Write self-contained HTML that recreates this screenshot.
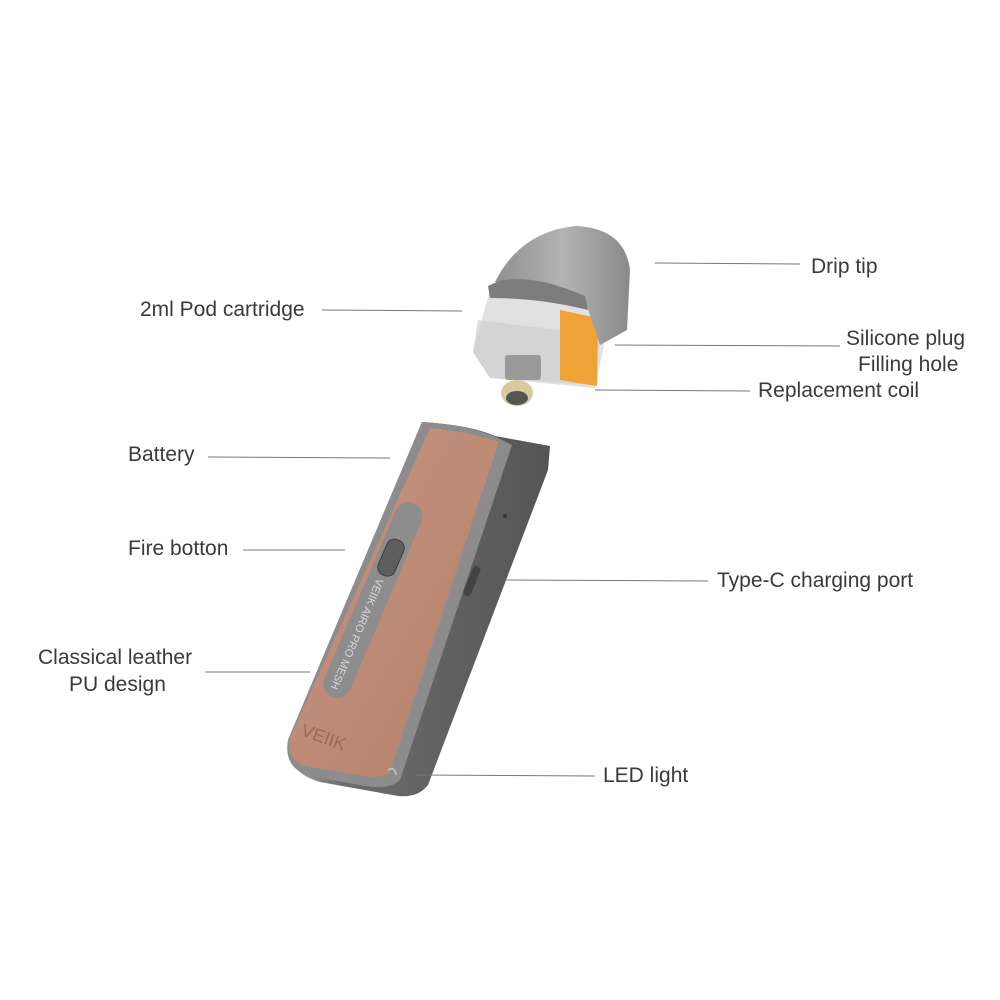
<!DOCTYPE html>
<html><head><meta charset="utf-8"><style>
html,body{margin:0;padding:0;background:#fff}
.w{position:relative;width:1000px;height:1000px;overflow:hidden;font-family:"Liberation Sans",sans-serif}
.t{position:absolute;font-size:21px;color:#3a3a3a;white-space:nowrap;line-height:1}
</style></head><body><div class="w">
<svg width="1000" height="1000" style="position:absolute;left:0;top:0">
<defs>
<linearGradient id="side" x1="0" x2="1"><stop offset="0" stop-color="#a9a9a9"/><stop offset="0.2" stop-color="#6d6d6d"/><stop offset="1" stop-color="#555"/></linearGradient>
<linearGradient id="lea" x1="0" x2="1" y1="0" y2="1"><stop offset="0" stop-color="#c79582"/><stop offset="1" stop-color="#b3806b"/></linearGradient>
<linearGradient id="dome" x1="0" x2="1"><stop offset="0" stop-color="#8f8f8f"/><stop offset="0.5" stop-color="#b3b3b3"/><stop offset="1" stop-color="#8a8a8a"/></linearGradient>
</defs>
<!-- body -->
<path d="M422,422 Q470,425 495,436 L550,446 L548,470 L428,785 Q418,798 398,796 L320,782 Q285,772 288,740 Z" fill="url(#side)"/>
<path d="M422,422 Q470,425 498,438 L512,445 L400,780 Q390,790 365,786 L310,776 Q283,768 288,740 Z" fill="#8c8c8c"/>
<path d="M430,428 Q470,432 499,442 L390,772 Q383,779 365,776 L305,766 Q286,760 290,738 Z" fill="url(#lea)"/>
<!-- slot -->
<g transform="translate(373,600) rotate(23)">
<rect x="-14" y="-105" width="28" height="210" rx="14" fill="#8d8d8d"/>
<rect x="-9" y="-65" width="18" height="38" rx="8" fill="#5e5e5e" stroke="#3e3e3e"/>
<text transform="rotate(90)" x="-22" y="5" font-size="11" fill="#d8d8d8" font-family="Liberation Sans">VEIIK AIRO PRO MESH</text>
</g>
<text x="300" y="735" transform="rotate(20 300 735)" font-size="18" fill="#9a6a58" font-family="Liberation Sans">VEIIK</text>
<rect x="468" y="565" width="8" height="32" rx="4" fill="#444" transform="rotate(22 472 581)"/>
<circle cx="505" cy="516" r="2" fill="#333"/>
<path d="M388,770 Q395,766 396,775" stroke="#bbb" fill="none" stroke-width="2"/>
<!-- pod -->
<path d="M490,290 L473,352 L490,378 L595,388 L605,340 L585,300 Z" fill="#dedede" opacity="0.9"/>
<path d="M478,320 L600,335 L595,385 L490,378 L473,352 Z" fill="#cfcfcf" opacity="0.7"/>
<polygon points="560,310 598,318 597,386 560,380" fill="#f1a236"/>
<path d="M495,282 Q520,232 575,226 Q625,228 630,270 L627,330 L600,345 L585,300 Q540,288 495,282 Z" fill="url(#dome)"/>
<path d="M488,286 Q520,268 585,296 L588,310 Q540,298 490,298 Z" fill="#7d7d7d"/>
<rect x="505" y="355" width="36" height="25" fill="#9a9a9a" rx="3"/>
<ellipse cx="517" cy="393" rx="16" ry="13" fill="#d9c99c"/>
<ellipse cx="517" cy="398" rx="11" ry="7" fill="#555"/>
<!-- leader lines -->
<g stroke="#777" stroke-width="1">
<line x1="655" y1="263" x2="800" y2="264"/>
<line x1="322" y1="310" x2="462" y2="311"/>
<line x1="615" y1="345" x2="840" y2="346"/>
<line x1="595" y1="390" x2="750" y2="391"/>
<line x1="208" y1="457" x2="390" y2="458"/>
<line x1="243" y1="550" x2="345" y2="550"/>
<line x1="505" y1="580" x2="708" y2="581"/>
<line x1="205" y1="672" x2="310" y2="672"/>
<line x1="415" y1="775" x2="595" y2="776"/>
</g>
</svg>
<div class="t" style="left:811px;top:256px">Drip tip</div>
<div class="t" style="left:140px;top:299px">2ml Pod cartridge</div>
<div class="t" style="left:846px;top:328px">Silicone plug</div>
<div class="t" style="left:858px;top:354px">Filling hole</div>
<div class="t" style="left:758px;top:380px">Replacement coil</div>
<div class="t" style="left:128px;top:444px">Battery</div>
<div class="t" style="left:128px;top:538px">Fire botton</div>
<div class="t" style="left:717px;top:570px">Type-C charging port</div>
<div class="t" style="left:38px;top:647px">Classical leather</div>
<div class="t" style="left:69px;top:674px">PU design</div>
<div class="t" style="left:603px;top:765px">LED light</div>
</div></body></html>
